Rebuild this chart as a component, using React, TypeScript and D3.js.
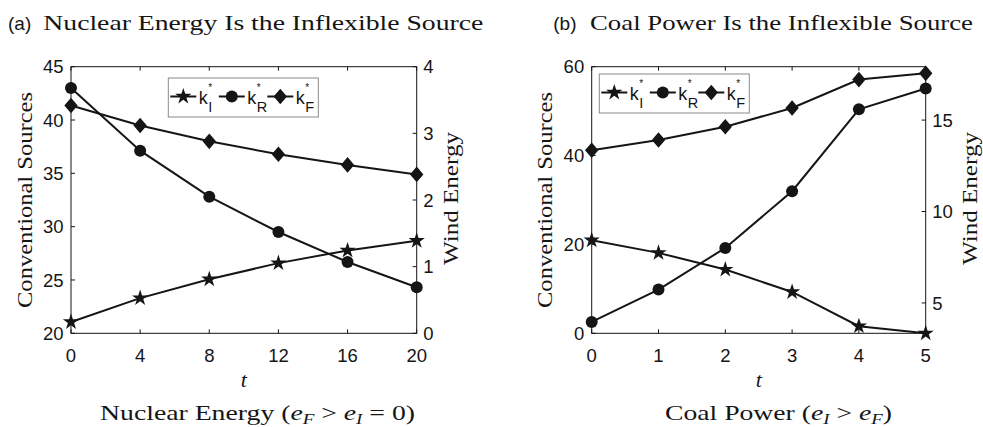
import React from "react";
import * as d3 from "d3";

// ---- data ----
const tNuclear = [0, 4, 8, 12, 16, 20];
const nuclearKI = [21.06, 23.3, 25.07, 26.58, 27.77, 28.68];
const nuclearKR = [3.68, 2.74, 2.05, 1.52, 1.07, 0.69]; // wind (right axis)
const nuclearKF = [41.36, 39.48, 38.0, 36.79, 35.79, 34.9];

const tCoal = [0, 1, 2, 3, 4, 5];
const coalKI = [20.95, 18.1, 14.35, 9.3, 1.6, 0];
const coalKR = [3.96, 5.73, 8.01, 11.11, 15.59, 16.73]; // wind (right axis)
const coalKF = [41.2, 43.5, 46.5, 50.7, 57.1, 58.5];

const nuclearXTicks = [0, 4, 8, 12, 16, 20];
const nuclearLeftTicks = [20, 25, 30, 35, 40, 45];
const nuclearRightTicks = [0, 1, 2, 3, 4];
const coalXTicks = [0, 1, 2, 3, 4, 5];
const coalLeftTicks = [0, 20, 40, 60];
const coalRightTicks = [5, 10, 15];

const legendKeys = ["I", "R", "F"];
const markerTypes = ["star", "circle", "diamond"];

const INK = "#151515";
const SANS = "'Liberation Sans', Arial, sans-serif";
const SERIF = "'Liberation Serif', 'Times New Roman', serif";

function markerPath(type: string): string {
  if (type === "star") return d3.symbol(d3.symbolStar, 82)() as string;
  if (type === "circle") return d3.symbol(d3.symbolCircle, Math.PI * 36)() as string;
  // diamond: half-width 6.7, half-height 7.8
  return "M0,-7.8L6.7,0L0,7.8L-6.7,0Z";
}

type PanelProps = {
  x0: number; x1: number; y0: number; y1: number;
  ts: number[]; kI: number[]; kR: number[]; kF: number[];
  xDomain: [number, number]; leftDomain: [number, number]; rightDomain: [number, number];
  xTicks: number[]; leftTicks: number[]; rightTicks: number[];
  legendX: number; legendY: number;
  ylabelLeftX: number; ylabelRightX: number;
};

function Panel(p: PanelProps) {
  const x = d3.scaleLinear().domain(p.xDomain).range([p.x0, p.x1]);
  const yL = d3.scaleLinear().domain(p.leftDomain).range([p.y1, p.y0]);
  const yR = d3.scaleLinear().domain(p.rightDomain).range([p.y1, p.y0]);
  const series = [
    { vals: p.kI, scale: yL, type: "star" },
    { vals: p.kR, scale: yR, type: "circle" },
    { vals: p.kF, scale: yL, type: "diamond" },
  ];
  const tl = 4;
  const midY = (p.y0 + p.y1) / 2;
  return (
    <g>
      {/* axes box */}
      <rect x={p.x0} y={p.y0} width={p.x1 - p.x0} height={p.y1 - p.y0} fill="none" stroke={INK} strokeWidth={1} />
      {p.xTicks.map((t) => (
        <g key={"xt" + t}>
          <line x1={x(t)} x2={x(t)} y1={p.y1} y2={p.y1 - tl} stroke={INK} />
          <line x1={x(t)} x2={x(t)} y1={p.y0} y2={p.y0 + tl} stroke={INK} />
          <text x={x(t)} y={p.y1 + 28.5} textAnchor="middle" fontFamily={SANS} fontSize={18.5} fill={INK}>{t}</text>
        </g>
      ))}
      {p.leftTicks.map((t) => (
        <g key={"yl" + t}>
          <line x1={p.x0} x2={p.x0 + tl} y1={yL(t)} y2={yL(t)} stroke={INK} />
          <text x={p.x0 - 7.5} y={yL(t)} dy="0.36em" textAnchor="end" fontFamily={SANS} fontSize={18.5} fill={INK}>{t}</text>
        </g>
      ))}
      {p.rightTicks.map((t) => (
        <g key={"yr" + t}>
          <line x1={p.x1} x2={p.x1 - tl} y1={yR(t)} y2={yR(t)} stroke={INK} />
          <text x={p.x1 + 6.5} y={yR(t)} dy="0.36em" textAnchor="start" fontFamily={SANS} fontSize={18.5} fill={INK}>{t}</text>
        </g>
      ))}
      {/* series */}
      {series.map((s, i) => {
        const line = d3.line<number>().x((_, j) => x(p.ts[j])).y((v) => s.scale(v));
        return (
          <g key={"s" + i}>
            <path d={line(s.vals) as string} fill="none" stroke={INK} strokeWidth={2} />
            {s.vals.map((v, j) => (
              <path key={j} d={markerPath(s.type)} transform={`translate(${x(p.ts[j])},${s.scale(v)})`} fill={INK} />
            ))}
          </g>
        );
      })}
      {/* legend */}
      <rect x={p.legendX} y={p.legendY} width={150} height={39} fill="#fff" stroke="#8a8a8a" strokeWidth={1} />
      {legendKeys.map((k, i) => {
        const cx = p.legendX + 15 + i * 48.5;
        const cy = p.legendY + 18.5;
        return (
          <g key={"lg" + k}>
            <line x1={cx - 13} x2={cx + 13} y1={cy} y2={cy} stroke={INK} strokeWidth={2} />
            <path d={markerPath(markerTypes[i])} transform={`translate(${cx},${cy})`} fill={INK} />
            <text x={cx + 15.5} y={cy + 7} fontFamily={SANS} fontSize={18} fill={INK}>k</text>
            <text x={cx + 25} y={cy - 6} fontFamily={SANS} fontSize={10} fill={INK}>*</text>
            <text x={cx + 25} y={cy + 15} fontFamily={SANS} fontSize={14.5} fill={INK}>{k}</text>
          </g>
        );
      })}
      {/* axis labels */}
      <text transform={`translate(${p.ylabelLeftX},${midY}) rotate(-90)`} textAnchor="middle" fontFamily={SERIF} fontSize={22} fill={INK} textLength={216} lengthAdjust="spacingAndGlyphs">Conventional Sources</text>
      <text transform={`translate(${p.ylabelRightX},${midY - 1.5}) rotate(-90)`} textAnchor="middle" fontFamily={SERIF} fontSize={22} fill={INK} textLength={133} lengthAdjust="spacingAndGlyphs">Wind Energy</text>
      <text x={(p.x0 + p.x1) / 2} y={p.y1 + 53.5} textAnchor="middle" fontFamily={SERIF} fontStyle="italic" fontSize={22} fill={INK}>t</text>
    </g>
  );
}

export default function App() {
  return (
    <svg width={983} height={427} style={{ position: "absolute", left: 0, top: 0, background: "#fff" }}>
      <rect x={0} y={0} width={983} height={427} fill="#fff" />
      {/* titles */}
      <text x={8} y={30} fontFamily={SANS} fontSize={19} fill={INK}>(a)</text>
      <text x={43.3} y={30} fontFamily={SERIF} fontSize={22} fill={INK} textLength={440} lengthAdjust="spacingAndGlyphs">Nuclear Energy Is the Inflexible Source</text>
      <text x={553.3} y={30} fontFamily={SANS} fontSize={19} fill={INK}>(b)</text>
      <text x={590} y={30} fontFamily={SERIF} fontSize={22} fill={INK} textLength={383} lengthAdjust="spacingAndGlyphs">Coal Power Is the Inflexible Source</text>

      <Panel
        x0={71} x1={416.7} y0={66.7} y1={333.3}
        ts={tNuclear} kI={nuclearKI} kR={nuclearKR} kF={nuclearKF}
        xDomain={[0, 20]} leftDomain={[20, 45]} rightDomain={[0, 4]}
        xTicks={nuclearXTicks} leftTicks={nuclearLeftTicks} rightTicks={nuclearRightTicks}
        legendX={168.3} legendY={78}
        ylabelLeftX={32} ylabelRightX={458}
      />
      <Panel
        x0={591.7} x1={925.7} y0={66.7} y1={333.3}
        ts={tCoal} kI={coalKI} kR={coalKR} kF={coalKF}
        xDomain={[0, 5]} leftDomain={[0, 60]} rightDomain={[3.34, 17.92]}
        xTicks={coalXTicks} leftTicks={coalLeftTicks} rightTicks={coalRightTicks}
        legendX={599.3} legendY={74}
        ylabelLeftX={552} ylabelRightX={977}
      />

      {/* bottom captions */}
      <text x={100} y={420} fontFamily={SERIF} fontSize={22} fill={INK} textLength={315} lengthAdjust="spacingAndGlyphs">
        Nuclear Energy (<tspan fontStyle="italic">e</tspan><tspan fontStyle="italic" fontSize={15} dy={4}>F</tspan><tspan dy={-4}> &gt; </tspan><tspan fontStyle="italic">e</tspan><tspan fontStyle="italic" fontSize={15} dy={4}>I</tspan><tspan dy={-4}> = 0)</tspan>
      </text>
      <text x={665} y={420} fontFamily={SERIF} fontSize={22} fill={INK} textLength={227} lengthAdjust="spacingAndGlyphs">
        Coal Power (<tspan fontStyle="italic">e</tspan><tspan fontStyle="italic" fontSize={15} dy={4}>I</tspan><tspan dy={-4}> &gt; </tspan><tspan fontStyle="italic">e</tspan><tspan fontStyle="italic" fontSize={15} dy={4}>F</tspan><tspan dy={-4}>)</tspan>
      </text>
    </svg>
  );
}
